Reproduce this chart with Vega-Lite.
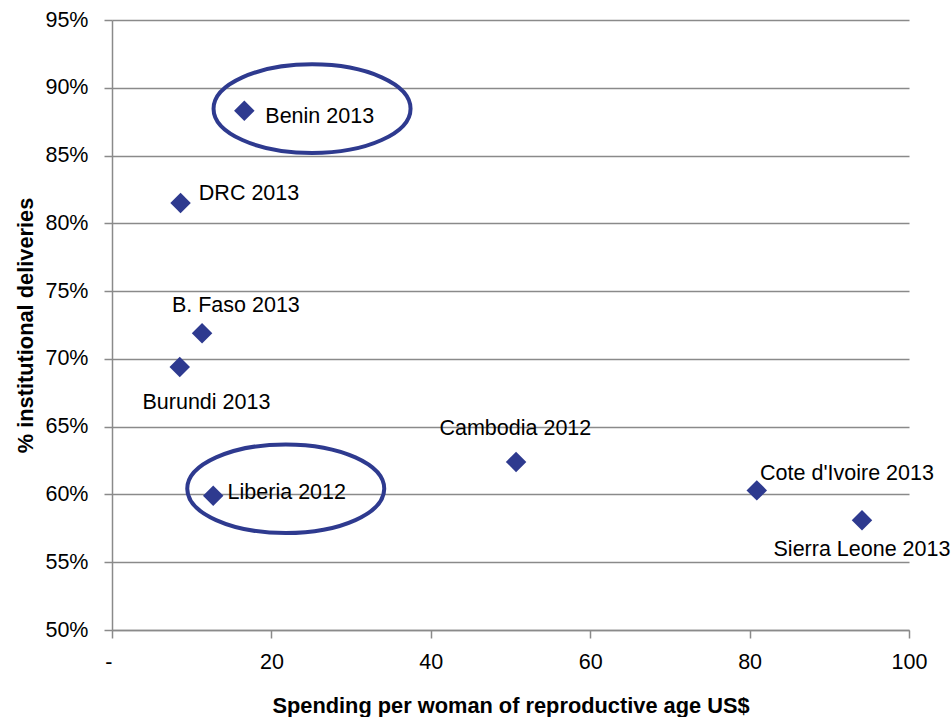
{
  "$schema": "https://vega.github.io/schema/vega-lite/v6.json",
  "width": 797,
  "height": 610,
  "autosize": "none",
  "padding": {"left": 112, "top": 20, "right": 43, "bottom": 87},
  "background": "white",
  "config": {
    "view": {"stroke": null},
    "font": "Liberation Sans, Arial, sans-serif"
  },
  "datasets": {
    "countries": [
      {"country": "Benin 2013", "spending": 16.6, "deliveries": 0.883},
      {"country": "DRC 2013", "spending": 8.6, "deliveries": 0.815},
      {"country": "B. Faso 2013", "spending": 11.3, "deliveries": 0.719},
      {"country": "Burundi 2013", "spending": 8.5, "deliveries": 0.694},
      {"country": "Liberia 2012", "spending": 12.7, "deliveries": 0.599},
      {"country": "Cambodia 2012", "spending": 50.7, "deliveries": 0.624},
      {"country": "Cote d'Ivoire 2013", "spending": 80.9, "deliveries": 0.603},
      {"country": "Sierra Leone 2013", "spending": 94.1, "deliveries": 0.581}
    ],
    "highlights": [
      {"country": "Benin 2013", "spending": 25.1, "deliveries": 0.8846},
      {"country": "Liberia 2012", "spending": 21.8, "deliveries": 0.6042}
    ]
  },
  "encoding": {
    "x": {
      "field": "spending",
      "type": "quantitative",
      "scale": {"domain": [0, 100], "nice": false, "zero": true},
      "axis": {
        "title": "Spending per woman of reproductive age US$",
        "titleFontSize": 21.8,
        "titleFontWeight": "bold",
        "titleColor": "#000000",
        "titleBaseline": "alphabetic",
        "titleY": 82,
        "values": [0, 20, 40, 60, 80, 100],
        "labelExpr": "datum.value == 0 ? '-' : datum.label",
        "labelAlign": {"condition": {"test": "datum.value == 0", "value": "right"}, "value": "center"},
        "labelFlush": false,
        "labelFontSize": 21.5,
        "labelColor": "#000000",
        "labelPadding": 13,
        "grid": false,
        "tickSize": 8,
        "tickWidth": 1.5,
        "tickColor": "#8a8a8a",
        "domainColor": "#8a8a8a",
        "domainWidth": 1.5
      }
    },
    "y": {
      "field": "deliveries",
      "type": "quantitative",
      "scale": {"domain": [0.5, 0.95], "nice": false, "zero": false},
      "axis": {
        "title": "% institutional deliveries",
        "titleFontSize": 21.8,
        "titleFontWeight": "bold",
        "titleColor": "#000000",
        "titleBaseline": "alphabetic",
        "titleX": -80,
        "titleY": 305,
        "values": [0.5, 0.55, 0.6, 0.65, 0.7, 0.75, 0.8, 0.85, 0.9, 0.95],
        "format": ".0%",
        "labelFlush": false,
        "labelFontSize": 21.5,
        "labelColor": "#000000",
        "labelPadding": 16,
        "grid": true,
        "gridColor": "#8a8a8a",
        "gridWidth": 1.5,
        "tickSize": 8,
        "tickWidth": 1.5,
        "tickColor": "#8a8a8a",
        "domainColor": "#8a8a8a",
        "domainWidth": 1.5
      }
    }
  },
  "layer": [
    {
      "data": {"name": "countries"},
      "mark": {"type": "point", "shape": "diamond", "filled": true, "size": 420, "color": "#2E3A8F", "opacity": 1}
    },
    {
      "data": {"name": "highlights"},
      "mark": {
        "type": "point",
        "shape": "M -1 0 A 1 0.45 0 1 0 1 0 A 1 0.45 0 1 0 -1 0 Z",
        "filled": false,
        "size": 38809,
        "stroke": "#2E3A8F",
        "strokeWidth": 4,
        "opacity": 1
      }
    },
    {
      "data": {"name": "countries"},
      "transform": [{"filter": "datum.country == 'Benin 2013'"}],
      "mark": {"type": "text", "align": "left", "baseline": "alphabetic", "dx": 21, "dy": 11.7, "fontSize": 21.5, "color": "#000000"},
      "encoding": {"text": {"field": "country"}}
    },
    {
      "data": {"name": "countries"},
      "transform": [{"filter": "datum.country == 'DRC 2013'"}],
      "mark": {"type": "text", "align": "left", "baseline": "alphabetic", "dx": 18.3, "dy": -2.7, "fontSize": 21.5, "color": "#000000"},
      "encoding": {"text": {"field": "country"}}
    },
    {
      "data": {"name": "countries"},
      "transform": [{"filter": "datum.country == 'B. Faso 2013'"}],
      "mark": {"type": "text", "align": "center", "baseline": "alphabetic", "dx": 33.8, "dy": -21, "fontSize": 21.5, "color": "#000000"},
      "encoding": {"text": {"field": "country"}}
    },
    {
      "data": {"name": "countries"},
      "transform": [{"filter": "datum.country == 'Burundi 2013'"}],
      "mark": {"type": "text", "align": "center", "baseline": "alphabetic", "dx": 26.7, "dy": 42, "fontSize": 21.5, "color": "#000000"},
      "encoding": {"text": {"field": "country"}}
    },
    {
      "data": {"name": "countries"},
      "transform": [{"filter": "datum.country == 'Liberia 2012'"}],
      "mark": {"type": "text", "align": "left", "baseline": "alphabetic", "dx": 14.4, "dy": 3.6, "fontSize": 21.5, "color": "#000000"},
      "encoding": {"text": {"field": "country"}}
    },
    {
      "data": {"name": "countries"},
      "transform": [{"filter": "datum.country == 'Cambodia 2012'"}],
      "mark": {"type": "text", "align": "center", "baseline": "alphabetic", "dx": -0.7, "dy": -27.3, "fontSize": 21.5, "color": "#000000"},
      "encoding": {"text": {"field": "country"}}
    },
    {
      "data": {"name": "countries"},
      "transform": [{"filter": "datum.country == \"Cote d'Ivoire 2013\""}],
      "mark": {"type": "text", "align": "left", "baseline": "alphabetic", "dx": 3.3, "dy": -10.7, "fontSize": 21.5, "color": "#000000"},
      "encoding": {"text": {"field": "country"}}
    },
    {
      "data": {"name": "countries"},
      "transform": [{"filter": "datum.country == 'Sierra Leone 2013'"}],
      "mark": {"type": "text", "align": "center", "baseline": "alphabetic", "dx": 0, "dy": 36, "fontSize": 21.5, "color": "#000000"},
      "encoding": {"text": {"field": "country"}}
    }
  ]
}
